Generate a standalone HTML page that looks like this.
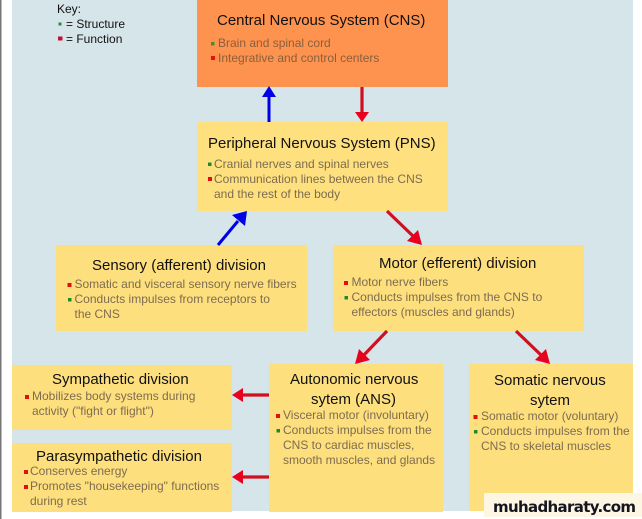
<!DOCTYPE html>
<html><head><meta charset="utf-8"><style>
html,body{margin:0;padding:0;background:#fff}
svg{display:block}
text{font-family:"Liberation Sans",sans-serif}
.t{font-size:15px;fill:#111}
.b{font-size:12px;fill:#7d6c50}
.k{font-size:12px;fill:#111}
.o{fill:#8a5f3c}
</style></head><body>
<svg width="642" height="519" viewBox="0 0 642 519" xmlns="http://www.w3.org/2000/svg">
<rect width="642" height="519" fill="#fff"/>
<rect x="0" y="0" width="1.5" height="519" fill="#777"/>
<rect x="12" y="0" width="621" height="511" fill="#d5e5ea"/>
<rect x="197" y="0" width="251" height="87" fill="#fd934f"/>
<rect x="197" y="122" width="251" height="89" fill="#fee07f"/>
<rect x="56" y="245" width="251" height="86" fill="#fedf7e"/>
<rect x="333" y="245" width="251" height="86" fill="#fedf7e"/>
<rect x="12" y="365" width="220" height="65" fill="#fedf7e"/>
<rect x="12" y="443" width="220" height="69" fill="#fedf7e"/>
<rect x="269" y="364" width="174" height="148" fill="#fedf7e"/>
<rect x="469" y="364" width="164" height="147" fill="#fedf7e"/>
<rect x="484" y="493" width="158" height="24" fill="#fdf6e2"/>

<g stroke="#0000e6" stroke-width="3" fill="none">
<line x1="269" y1="122" x2="269" y2="95"/>
<line x1="218" y1="245" x2="238" y2="221"/>
</g>
<g fill="#0000e6">
<polygon points="269,86 262,97 276,97"/>
<polygon points="247,211 245,226 232,215"/>
</g>
<g stroke="#d0101e" stroke-width="3.2" fill="none">
<line x1="362" y1="87" x2="362" y2="113"/>
<line x1="387" y1="211" x2="414" y2="237"/>
<line x1="387" y1="331" x2="363" y2="356"/>
<line x1="516" y1="331" x2="542" y2="356"/>
<line x1="269" y1="395" x2="241" y2="395"/>
<line x1="269" y1="477" x2="241" y2="477"/>
</g>
<g fill="#e8001c">
<polygon points="362,122 355,112 369,112"/>
<polygon points="422,245 418,230 407,241"/>
<polygon points="355,364 370,360 359,349"/>
<polygon points="550,364 546,349 535,360"/>
<polygon points="232,395 243,388 243,402"/>
<polygon points="232,477 243,470 243,484"/>
</g>

<text class="k" x="57" y="13">Key:</text>
<text class="k" x="66" y="28">= Structure</text>
<text class="k" x="66" y="43">= Function</text>
<rect x="58.5" y="22.5" width="3" height="3" fill="#2a8a3a"/>
<rect x="58" y="36.5" width="4.5" height="4" fill="#c01030"/>

<text class="t" x="217" y="25">Central Nervous System (CNS)</text>
<text class="b o" x="218" y="47">Brain and spinal cord</text>
<text class="b o" x="218" y="62">Integrative and control centers</text>
<rect x="211" y="42" width="3.5" height="3.5" fill="#4d8a2a"/>
<rect x="211" y="56" width="4" height="4" fill="#e81010"/>

<text class="t" x="208" y="148">Peripheral Nervous System (PNS)</text>
<text class="b" x="214" y="168">Cranial nerves and spinal nerves</text>
<text class="b" x="214" y="183">Communication lines between the CNS</text>
<text class="b" x="214" y="198">and the rest of the body</text>
<rect x="208" y="162.5" width="3.5" height="3.5" fill="#1f8a2a"/>
<rect x="208" y="177" width="4" height="4" fill="#e01010"/>

<text class="t" x="92" y="270">Sensory (afferent) division</text>
<text class="b" x="74.5" y="288">Somatic and visceral sensory nerve fibers</text>
<text class="b" x="74.5" y="303">Conducts impulses from receptors to</text>
<text class="b" x="74.5" y="318">the CNS</text>
<rect x="67.5" y="283" width="4" height="4" fill="#e01010"/>
<rect x="68" y="298" width="3.5" height="3.5" fill="#1f8a2a"/>

<text class="t" x="379" y="268">Motor (efferent) division</text>
<text class="b" x="351.5" y="286">Motor nerve fibers</text>
<text class="b" x="351.5" y="301">Conducts impulses from the CNS to</text>
<text class="b" x="351.5" y="316">effectors (muscles and glands)</text>
<rect x="344" y="281" width="4" height="4" fill="#e01010"/>
<rect x="344.5" y="296" width="3.5" height="3.5" fill="#1f8a2a"/>

<text class="t" x="52" y="384">Sympathetic division</text>
<text class="b" x="32" y="400">Mobilizes body systems during</text>
<text class="b" x="32" y="415">activity ("fight or flight")</text>
<rect x="25" y="395" width="4" height="4" fill="#e01010"/>

<text class="t" x="36" y="461">Parasympathetic division</text>
<text class="b" x="30" y="475">Conserves energy</text>
<text class="b" x="30" y="490">Promotes "housekeeping" functions</text>
<text class="b" x="30" y="505">during rest</text>
<rect x="24" y="470" width="4" height="4" fill="#e01010"/>
<rect x="24" y="485" width="4" height="4" fill="#e01010"/>

<text class="t" x="290" y="384">Autonomic nervous</text>
<text class="t" x="311" y="404">sytem (ANS)</text>
<text class="b" x="283" y="419">Visceral motor (involuntary)</text>
<text class="b" x="283" y="434">Conducts impulses from the</text>
<text class="b" x="283" y="449">CNS to cardiac muscles,</text>
<text class="b" x="283" y="464">smooth muscles, and glands</text>
<rect x="276" y="414" width="4" height="4" fill="#e01010"/>
<rect x="276.5" y="429" width="3.5" height="3.5" fill="#1f8a2a"/>

<text class="t" x="494" y="385">Somatic nervous</text>
<text class="t" x="530" y="405">sytem</text>
<text class="b" x="481" y="420">Somatic motor (voluntary)</text>
<text class="b" x="481" y="435">Conducts impulses from the</text>
<text class="b" x="481" y="450">CNS to skeletal muscles</text>
<rect x="473.5" y="415" width="4" height="4" fill="#e01010"/>
<rect x="474" y="430" width="3.5" height="3.5" fill="#1f8a2a"/>

<text x="493" y="512" style="font-family:'DejaVu Sans',sans-serif;font-weight:bold;font-size:15px;fill:#15151f" textLength="143" lengthAdjust="spacing">muhadharaty.com</text>
</svg>
</body></html>
